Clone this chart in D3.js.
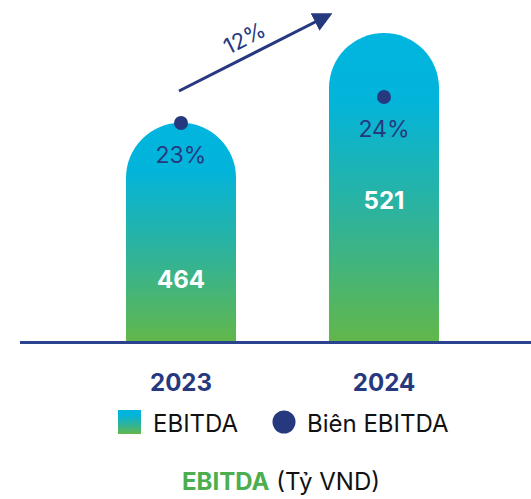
<!DOCTYPE html>
<html>
<head>
<meta charset="UTF-8">
<style>
  body { margin: 0; background: #fff; }
  svg { display: block; font-family: Inter, Roboto, "Noto Sans", sans-serif; }
</style>
</head>
<body>
<svg></svg>
<script src="https://d3js.org/d3.v7.min.js"></script>
<script>
// data
const years = ["2023", "2024"];
const ebitda = [464, 521];
const margin = [23, 24];
const growth = "12%";

const width = 531, height = 499;
const navy = "#26397f";

const svg = d3.select("svg").attr("width", width).attr("height", height);

// scales
const x = d3.scaleBand().domain(years).range([126, 439]).paddingInner(0.458).paddingOuter(0);
const y = d3.scaleLinear().domain([325, 540]).range([342, 3]);
const ym = d3.scaleLinear().domain([23, 24]).range([123, 97]);

// gradient for bars
const defs = svg.append("defs");
const grad = defs.append("linearGradient").attr("id", "barGrad")
    .attr("x1", 0).attr("y1", 0).attr("x2", 0).attr("y2", 1);
grad.append("stop").attr("offset", "0%").attr("stop-color", "#00b5df");
grad.append("stop").attr("offset", "22%").attr("stop-color", "#03b4da");
grad.append("stop").attr("offset", "60%").attr("stop-color", "#2fb39a");
grad.append("stop").attr("offset", "100%").attr("stop-color", "#62b74a");

defs.append("marker").attr("id", "arrowHead")
    .attr("viewBox", "0 0 10 10").attr("refX", 8).attr("refY", 5)
    .attr("markerWidth", 6.5).attr("markerHeight", 6.5).attr("orient", "auto")
  .append("path").attr("d", "M0,0 L10,5 L0,10 z").attr("fill", navy);

// bars with rounded top
const bw = x.bandwidth();
const base = y(y.domain()[0]);
svg.selectAll("path.bar")
  .data(ebitda)
  .enter().append("path")
  .attr("class", "bar")
  .attr("fill", "url(#barGrad)")
  .attr("d", (d, i) => {
      const x0 = x(years[i]), top = y(d), r = bw / 2;
      return `M${x0},${base} L${x0},${top + r} A${r},${r} 0 0 1 ${x0 + bw},${top + r} L${x0 + bw},${base} Z`;
  });

// axis line
svg.append("line")
  .attr("x1", 20).attr("x2", width).attr("y1", 342.5).attr("y2", 342.5)
  .attr("stroke", "#2b438e").attr("stroke-width", 3);

// values
svg.selectAll("text.val")
  .data(ebitda)
  .enter().append("text")
  .attr("class", "val")
  .attr("x", (d, i) => x(years[i]) + bw / 2)
  .attr("y", (d, i) => [288, 209][i])
  .attr("text-anchor", "middle")
  .attr("fill", "#fff")
  .attr("font-weight", 700)
  .attr("font-size", 24)
  .text(d => d);

// margin dots + labels
svg.selectAll("circle.m")
  .data(margin)
  .enter().append("circle")
  .attr("class", "m")
  .attr("cx", (d, i) => x(years[i]) + bw / 2)
  .attr("cy", d => ym(d))
  .attr("r", 7)
  .attr("fill", navy);

svg.selectAll("text.m")
  .data(margin)
  .enter().append("text")
  .attr("class", "m")
  .attr("x", (d, i) => x(years[i]) + bw / 2)
  .attr("y", d => ym(d) + 40)
  .attr("text-anchor", "middle")
  .attr("fill", navy)
  .attr("font-size", 23)
  .text(d => d + "%");

// growth arrow
svg.append("line")
  .attr("x1", 179).attr("y1", 91).attr("x2", 329).attr("y2", 15)
  .attr("stroke", navy).attr("stroke-width", 3)
  .attr("marker-end", "url(#arrowHead)");

svg.append("text")
  .attr("transform", "translate(248,45) rotate(-27)")
  .attr("text-anchor", "middle")
  .attr("fill", navy)
  .attr("font-size", 22)
  .text(growth);

// year labels
svg.selectAll("text.year")
  .data(years)
  .enter().append("text")
  .attr("class", "year")
  .attr("x", d => x(d) + bw / 2)
  .attr("y", 391)
  .attr("text-anchor", "middle")
  .attr("fill", navy)
  .attr("font-weight", 700)
  .attr("font-size", 24)
  .text(d => d);

// legend
svg.append("rect").attr("x", 118).attr("y", 410).attr("width", 23).attr("height", 24)
  .attr("fill", "url(#barGrad)");
svg.append("text").attr("x", 153).attr("y", 432).attr("font-size", 24).attr("fill", "#111")
  .text("EBITDA");
svg.append("circle").attr("cx", 284).attr("cy", 422).attr("r", 11.5).attr("fill", navy);
svg.append("text").attr("x", 307).attr("y", 432).attr("font-size", 24).attr("fill", "#111")
  .text("Biên EBITDA");

// title
const title = svg.append("text").attr("x", 281).attr("y", 490).attr("text-anchor", "middle")
  .attr("font-size", 24);
title.append("tspan").attr("fill", "#4cae4f").attr("font-weight", 700).text("EBITDA");
title.append("tspan").attr("fill", "#111").text(" (Tỷ VND)");
</script>
</body>
</html>
